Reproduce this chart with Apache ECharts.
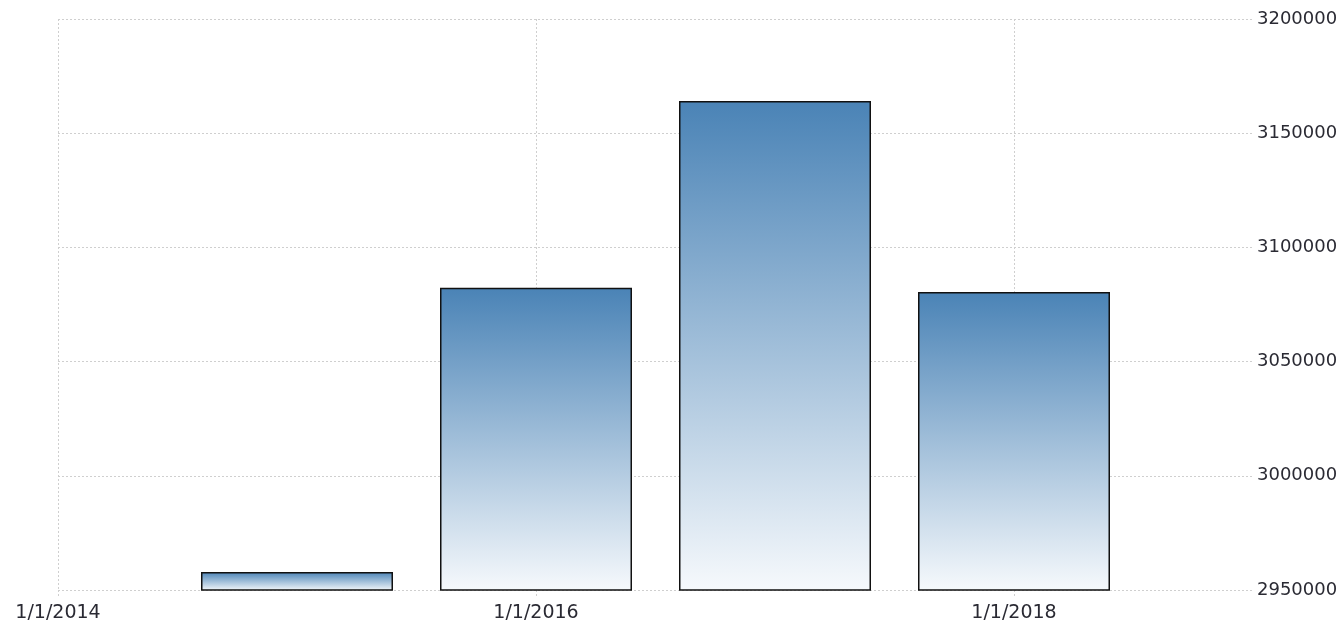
<!DOCTYPE html>
<html>
<head>
<meta charset="utf-8">
<title>chart</title>
<script src="https://cdn.jsdelivr.net/npm/echarts@6/dist/echarts.min.js"></script>
<style>
    html, body { margin: 0; padding: 0; background: #fff; }
    #chart { width: 1342px; height: 626px; }
</style>
</head>
<body>
<div id="chart"></div>
<script>
var years = [2015, 2016, 2017, 2018];
var values = [2957900, 3082300, 3164100, 3080500];
var yTicks = { min: 2950000, max: 3200000, step: 50000 };
var xTicks = [2014, 2016, 2018];
var xRange = { min: 2014, max: 2019 };

(function (echarts) {
    "use strict";
    var chart = echarts.init(document.getElementById('chart'));

    var data = [];
    for (var i = 0; i < years.length; i++) {
        data.push([years[i], values[i]]);
    }

    var dotted = { color: '#cfcfcf', type: [2, 2], width: 1 };

    chart.setOption({
        animation: false,
        grid: { left: 58, right: 89, top: 19, bottom: 36 },
        xAxis: {
            type: 'value',
            min: xRange.min,
            max: xRange.max,
            interval: 1,
            axisLine: { show: false },
            axisTick: { show: true, length: 7, customValues: xTicks, lineStyle: dotted },
            splitLine: { show: true, customValues: xTicks, lineStyle: dotted },
            axisLabel: {
                margin: 14,
                customValues: xTicks,
                color: '#2a2a33',
                fontFamily: 'DejaVu Sans',
                fontSize: 19,
                formatter: function (v) {
                    return '1/1/' + v;
                }
            }
        },
        yAxis: {
            type: 'value',
            position: 'right',
            min: yTicks.min,
            max: yTicks.max,
            interval: yTicks.step,
            axisLine: { show: false },
            axisTick: { show: false },
            splitLine: { show: true, lineStyle: dotted },
            axisLabel: {
                margin: 4,
                color: '#2a2a33',
                fontFamily: 'DejaVu Sans',
                fontSize: 18,
                formatter: function (v) {
                    return String(v);
                }
            }
        },
        series: [{
            type: 'bar',
            data: data,
            barWidth: 192,
            itemStyle: {
                borderColor: '#111',
                borderWidth: 1.5,
                color: new echarts.graphic.LinearGradient(0, 0, 0, 1, [
                    { offset: 0, color: '#4a83b6' },
                    { offset: 1, color: '#f6f9fc' }
                ])
            }
        }]
    });
}(echarts));
</script>
</body>
</html>
